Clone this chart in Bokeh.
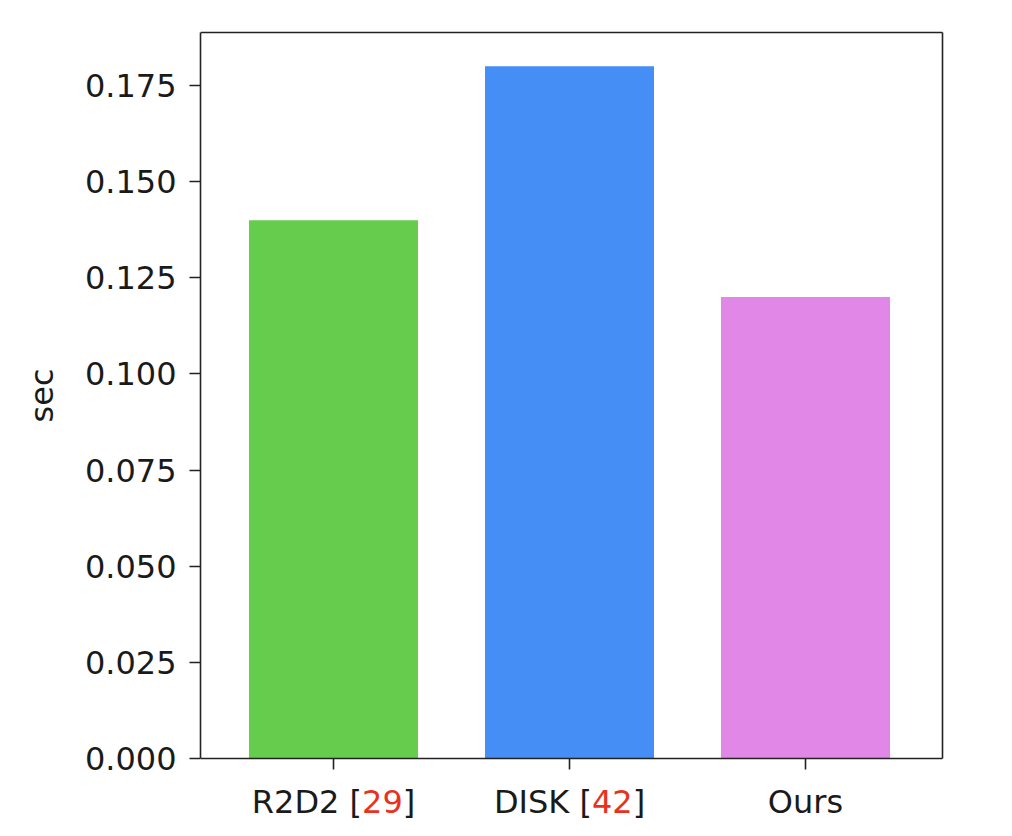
from bokeh.plotting import figure
from bokeh.models import ColumnDataSource, FixedTicker, NumeralTickFormatter, Range1d, Title
from bokeh.core.properties import value
from bokeh.embed import file_html
from bokeh.resources import INLINE

methods = ["R2D2", "DISK", "Ours"]
refs = ["29", "42", ""]
times = [0.14, 0.18, 0.12]
colors = ["#66cc4d", "#448ef5", "#e087e8"]
y_ticks = [0.0, 0.025, 0.05, 0.075, 0.1, 0.125, 0.15, 0.175]

xs = list(range(len(methods)))
src = ColumnDataSource(dict(x=xs, top=times, color=colors))

# layout geometry (pixels)
W, H = 996, 820
AX_BOTTOM, AX_TOP = 758, 32          # pixel rows of y=0 and y=YMAX
X0, X1 = -0.5636, 2.5805             # visible data span on x
YMAX = 0.1888
PX = 236.0                           # pixels per x unit
UPP = YMAX / (AX_BOTTOM - AX_TOP)    # y units per pixel
PAD = 2

BL = 200
frame_w = (X1 - X0) * PX + PAD
BR = W - BL - int(round(frame_w))

p = figure(width=W, height=H, output_backend="svg", toolbar_location=None,
           x_axis_location=None,
           x_range=Range1d(X0, X1 + PAD / PX),
           y_range=Range1d(-(H - AX_BOTTOM) * UPP, YMAX + PAD * UPP),
           min_border_left=BL, min_border_right=BR,
           min_border_top=AX_TOP - PAD, min_border_bottom=0)
p.grid.visible = False
p.outline_line_color = None

p.vbar(x="x", top="top", bottom=0, width=0.716, color="color", source=src, line_color=None)

FONT = "DejaVu Sans"
FS = 32
DARK = "#1a1a1a"
LW = 1.6

# spines (bottom, top, right)
p.segment(x0=[X0, X0, X1], y0=[0, YMAX, 0], x1=[X1, X1, X1], y1=[0, YMAX, YMAX],
          line_color="#222222", line_width=LW)
# x ticks
p.segment(x0=xs, y0=[0] * len(xs), x1=xs, y1=[-11 * UPP] * len(xs),
          line_color="#222222", line_width=LW)

ya = p.yaxis[0]
ya.bounds = (0, YMAX)
ya.axis_line_color = "#222222"
ya.axis_line_width = LW
ya.major_tick_line_color = "#222222"
ya.major_tick_line_width = LW
ya.major_tick_out = 11
ya.major_tick_in = 0
ya.minor_tick_line_color = None
ya.major_label_text_font = FONT
ya.major_label_text_font_size = f"{FS}px"
ya.major_label_text_color = DARK
ya.ticker = FixedTicker(ticks=y_ticks)
ya.formatter = NumeralTickFormatter(format="0.000")
ya.major_label_standoff = 13

# y-axis title "sec", centred on the 0..YMAX span (frame extends below for x labels)
adv = {"R": 0.695, "2": 0.636, "D": 0.770, "I": 0.295, "S": 0.635, "K": 0.656, " ": 0.318,
       "[": 0.390, "]": 0.390, "9": 0.636, "4": 0.636, "O": 0.787, "u": 0.634, "r": 0.411,
       "s": 0.521, "e": 0.615, "c": 0.550}

def tw(s):
    return sum(adv.get(c, 0.6) for c in s) * FS

ylab = "sec"
axis_mid = (AX_TOP + AX_BOTTOM) / 2
p.add_layout(Title(text=ylab, align="left", offset=H - (axis_mid + tw(ylab) / 2),
                   text_font=FONT, text_font_size=f"{FS}px", text_font_style="normal",
                   text_color=DARK, standoff=41), "left")

lx, lt, lo, lc = [], [], [], []
for i, (m, r) in enumerate(zip(methods, refs)):
    if r:
        pieces = [(m + " [", DARK), (r, "#e8321e"), ("]", DARK)]
    else:
        pieces = [(m, DARK)]
    total = sum(tw(s) for s, _ in pieces)
    off = -total / 2
    for s, c in pieces:
        lx.append(i); lt.append(s); lo.append(off); lc.append(c)
        off += tw(s)

LABEL_Y = 801
lsrc = ColumnDataSource(dict(x=lx, y=[-(LABEL_Y - AX_BOTTOM) * UPP] * len(lx),
                             text=lt, off=lo, color=lc))
p.text(x="x", y="y", text="text", x_offset="off", text_color="color", source=lsrc,
       text_font=value(FONT), text_font_size=f"{FS}px",
       text_align="left", text_baseline="alphabetic")

open("out.html", "w").write(file_html(p, INLINE))
